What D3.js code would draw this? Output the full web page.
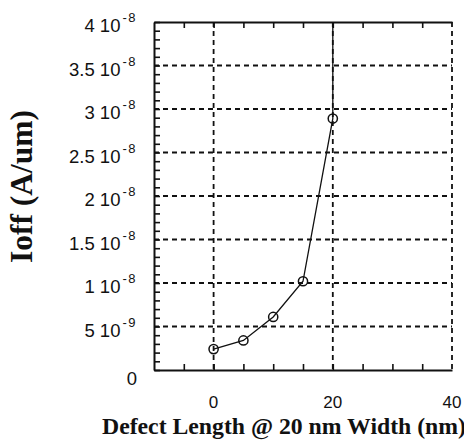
<!DOCTYPE html>
<html><head><meta charset="utf-8">
<script src="https://cdn.jsdelivr.net/npm/d3@7"></script>
<style>html,body{margin:0;padding:0;background:#fff;overflow:hidden}</style>
</head><body><svg id="chart" width="464" height="441"></svg>
<script>
// Off-state leakage current vs. defect length (20 nm wide device)
const defectLength = [0, 5, 10, 15, 20, 20];
const ioff = [2.4e-9, 3.4e-9, 6.1e-9, 1.02e-8, 2.89e-8, 6e-8];   // last value runs off scale
const xTicks = [0, 20, 40];
const xTickLabels = ["0", "20", "40"];
const yTicks = [0, 5e-9, 1e-8, 1.5e-8, 2e-8, 2.5e-8, 3e-8, 3.5e-8, 4e-8];
const yTickMantissa = ["0", "5 10", "1 10", "1.5 10", "2 10", "2.5 10", "3 10", "3.5 10", "4 10"];
const yTickExponent = ["", "-9", "-8", "-8", "-8", "-8", "-8", "-8", "-8"];
const xTitle = "Defect Length @ 20 nm Width (nm)";
const yTitle = "Ioff (A/um)";

const svg = d3.select("#chart");
const L = 154, R = 452, T = 22, B = 370;
const x = d3.scaleLinear().domain([-10, 40]).range([L, R]);
const y = d3.scaleLinear().domain([0, 4e-8]).range([B, T]);
const ink = "#111";

svg.append("rect").attr("width", 464).attr("height", 441).attr("fill", "#fff");

svg.append("defs").append("clipPath").attr("id", "plot")
  .append("rect").attr("x", L).attr("y", T).attr("width", R - L).attr("height", B - T);

// dashed grid
const grid = svg.append("g").attr("stroke", ink).attr("stroke-width", 1.8)
  .attr("stroke-dasharray", "5,4").attr("fill", "none");
grid.selectAll("line.h").data(yTicks.filter((v, i) => i > 0 && i < yTicks.length - 1))
  .join("line").attr("class", "h")
  .attr("x1", L).attr("x2", R).attr("y1", d => y(d)).attr("y2", d => y(d));
grid.selectAll("line.v").data(xTicks)
  .join("line").attr("class", "v")
  .attr("x1", d => x(d)).attr("x2", d => x(d)).attr("y1", T).attr("y2", B);

// frame axes with inward minor ticks
function styleAxis(g) {
  g.select(".domain").attr("stroke", ink).attr("stroke-width", 2);
  g.selectAll(".tick line").attr("stroke", ink).attr("stroke-width", 1.6);
  g.selectAll(".tick text").remove();
}
const xMinor = d3.range(-5, 40, 5);
svg.append("g").attr("transform", `translate(0,${B})`)
  .call(d3.axisBottom(x).tickValues(xMinor).tickSizeInner(-6).tickSizeOuter(0).tickFormat(""))
  .call(styleAxis);
svg.append("g").attr("transform", `translate(0,${T})`)
  .call(d3.axisTop(x).tickValues(xMinor).tickSizeInner(-6).tickSizeOuter(0).tickFormat(""))
  .call(styleAxis);
svg.append("g").attr("transform", `translate(${L},0)`)
  .call(d3.axisLeft(y).tickValues(d3.range(0, 41).map(i => i * 1e-9)).tickSizeInner(-6).tickSizeOuter(0).tickFormat(""))
  .call(styleAxis);

// data
const pts = defectLength.map((d, i) => ({ x: d, y: ioff[i] }));
svg.append("path").datum(pts)
  .attr("clip-path", "url(#plot)")
  .attr("fill", "none").attr("stroke", ink).attr("stroke-width", 1.3)
  .attr("d", d3.line().x(d => x(d.x)).y(d => y(d.y)));
svg.append("g").selectAll("circle")
  .data(pts.filter(p => p.y <= y.domain()[1]))
  .join("circle")
  .attr("cx", d => x(d.x)).attr("cy", d => y(d.y)).attr("r", 4.6)
  .attr("fill", "none").attr("stroke", ink).attr("stroke-width", 1.5);

// tick labels
const tickFont = "'Liberation Sans', Arial, sans-serif";
svg.append("g").selectAll("text").data(xTicks).join("text")
  .attr("x", d => x(d)).attr("y", B + 38)
  .attr("text-anchor", "middle").attr("font-family", tickFont).attr("font-size", 17)
  .attr("fill", ink).text((d, i) => xTickLabels[i]);

const yl = svg.append("g").selectAll("text").data(yTicks).join("text")
  .attr("x", 137).attr("y", (d, i) => y(d) + (yTickExponent[i] ? 10 : 15))
  .attr("text-anchor", "end").attr("font-family", tickFont).attr("font-size", 18.5)
  .attr("fill", ink);
yl.append("tspan").text((d, i) => yTickMantissa[i]);
yl.filter((d, i) => yTickExponent[i]).append("tspan")
  .attr("dx", 2).attr("dy", -10).attr("font-size", 13).attr("letter-spacing", 1.5)
  .text(d => yTickExponent[yTicks.indexOf(d)]);

// axis titles
const titleFont = "'Liberation Serif', 'Times New Roman', serif";
svg.append("text").attr("x", 102).attr("y", 434)
  .attr("font-family", titleFont).attr("font-weight", "bold").attr("font-size", 23)
  .attr("textLength", 364).attr("lengthAdjust", "spacingAndGlyphs")
  .attr("fill", ink).text(xTitle);
svg.append("text").attr("transform", "translate(32,186.5) rotate(-90)")
  .attr("text-anchor", "middle")
  .attr("font-family", titleFont).attr("font-weight", "bold").attr("font-size", 31)
  .attr("textLength", 153).attr("lengthAdjust", "spacingAndGlyphs")
  .attr("fill", ink).text(yTitle);
</script></body></html>
